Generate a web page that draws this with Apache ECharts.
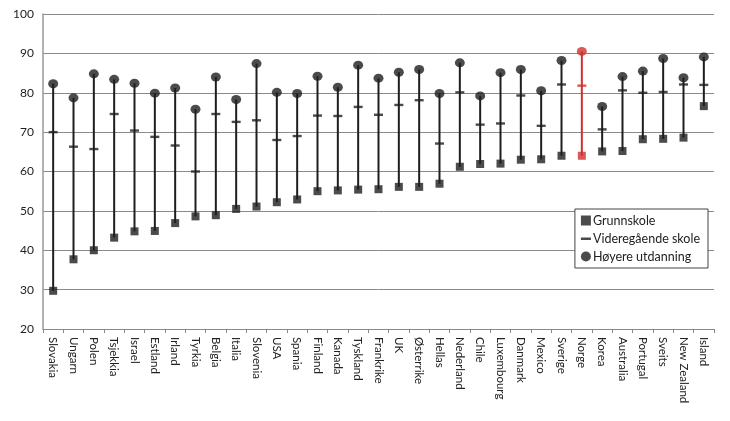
<!DOCTYPE html>
<html>
<head>
<meta charset="utf-8">
<script src="https://cdn.jsdelivr.net/npm/echarts@6/dist/echarts.min.js"></script>
<style>
  html, body { margin: 0; padding: 0; background: #fff; }
  #main { width: 730px; height: 421px; }
</style>
</head>
<body>
<div id="main"></div>
<script>
// land, sortert etter grunnskole
var countries = ['Slovakia', 'Ungarn', 'Polen', 'Tsjekkia', 'Israel', 'Estland', 'Irland', 'Tyrkia', 'Belgia', 'Italia',
  'Slovenia', 'USA', 'Spania', 'Finland', 'Kanada', 'Tyskland', 'Frankrike', 'UK', 'Østerrike', 'Hellas', 'Nederland',
  'Chile', 'Luxembourg', 'Danmark', 'Mexico', 'Sverige', 'Norge', 'Korea', 'Australia', 'Portugal', 'Sveits',
  'New Zealand', 'Island'];
var grunnskole = [29.7, 37.7, 40.0, 43.2, 44.8, 44.9, 46.9, 48.6, 48.9, 50.5,
  51.1, 52.2, 52.9, 55.0, 55.2, 55.4, 55.5, 56.1, 56.1, 56.9, 61.2,
  61.9, 62.0, 63.0, 63.1, 64.0, 64.0, 65.1, 65.2, 68.2, 68.3,
  68.6, 76.6];
var videregaende = [70.0, 66.3, 65.7, 74.6, 70.4, 68.8, 66.6, 60.0, 74.6, 72.6,
  73.0, 68.0, 69.0, 74.2, 74.1, 76.4, 74.4, 76.9, 78.1, 67.1, 80.1,
  71.9, 72.2, 79.3, 71.6, 82.1, 81.8, 70.7, 80.6, 80.0, 80.2,
  82.1, 82.0];
var hoyere = [82.3, 78.7, 84.8, 83.4, 82.4, 79.9, 81.2, 75.8, 84.0, 78.3,
  87.4, 80.1, 79.8, 84.2, 81.4, 87.0, 83.7, 85.2, 85.9, 79.8, 87.6,
  79.2, 85.1, 85.9, 80.5, 88.2, 90.5, 76.5, 84.1, 85.5, 88.7,
  83.8, 89.1];
var yTicks = [20, 30, 40, 50, 60, 70, 80, 90, 100];

var black = '#1e1e1e';
var red = '#d0312d';
var highlight = 'Norge';

function colorOf(i) {
  return countries[i] === highlight ? red : black;
}
function points(arr) {
  return arr.map(function (v, i) {
    return { value: v, itemStyle: { color: colorOf(i) } };
  });
}

var rangeData = countries.map(function (c, i) {
  return [i, grunnskole[i], hoyere[i]];
});

var dashIcon = 'path://M0,0h0.01v0.01h-0.01z M10,10h0.01v0.01h-0.01z M0,4h10v2.4h-10z';

var chart = echarts.init(document.getElementById('main'));
chart.setOption({
  animation: false,
  textStyle: { fontFamily: 'Lato, "Open Sans", sans-serif' },
  grid: { left: 43, right: 16, top: 14, bottom: 92, containLabel: false },
  legend: {
    orient: 'vertical',
    right: 22,
    top: 209,
    width: 131,
    padding: [5, 8, 5, 6],
    itemGap: 5,
    itemWidth: 10,
    itemHeight: 10,
    borderColor: '#444',
    borderWidth: 1,
    backgroundColor: '#fff',
    textStyle: { fontSize: 12.5, color: '#222', padding: [0, 0, 0, -3] },
    data: [
      { name: 'Grunnskole', icon: 'rect' },
      { name: 'Videregående skole', icon: dashIcon },
      { name: 'Høyere utdanning', icon: 'circle' }
    ]
  },
  xAxis: {
    type: 'category',
    data: countries,
    boundaryGap: true,
    axisLine: { lineStyle: { color: '#888', width: 1 } },
    axisTick: { show: true, length: 4, lineStyle: { color: '#888' } },
    axisLabel: {
      rotate: -90,
      interval: 0,
      fontSize: 11.5,
      color: '#222',
      margin: 8
    }
  },
  yAxis: {
    type: 'value',
    min: yTicks[0],
    max: yTicks[yTicks.length - 1],
    interval: 10,
    axisLine: { show: true, lineStyle: { color: '#999', width: 1.5 } },
    axisTick: { show: false },
    axisLabel: { fontSize: 12, color: '#222', margin: 9 },
    splitLine: { lineStyle: { color: '#8a8a8a', width: 1 } }
  },
  series: [
    {
      type: 'custom',
      name: 'range',
      silent: true,
      z: 1,
      encode: { x: 0, y: [1, 2] },
      data: rangeData,
      renderItem: function (params, api) {
        var lo = api.coord([api.value(0), api.value(1)]);
        var hi = api.coord([api.value(0), api.value(2)]);
        return {
          type: 'line',
          shape: { x1: lo[0], y1: lo[1], x2: hi[0], y2: hi[1] },
          style: { stroke: colorOf(params.dataIndex), lineWidth: 2 }
        };
      }
    },
    {
      type: 'scatter',
      name: 'Grunnskole',
      symbol: 'rect',
      symbolSize: 8,
      z: 3,
      itemStyle: { color: black },
      data: points(grunnskole)
    },
    {
      type: 'scatter',
      name: 'Videregående skole',
      symbol: 'rect',
      symbolSize: [9, 2.4],
      z: 3,
      itemStyle: { color: black },
      data: points(videregaende)
    },
    {
      type: 'scatter',
      name: 'Høyere utdanning',
      symbol: 'circle',
      symbolSize: [10, 9],
      z: 3,
      itemStyle: { color: black },
      data: points(hoyere)
    }
  ]
});
</script>
</body>
</html>
